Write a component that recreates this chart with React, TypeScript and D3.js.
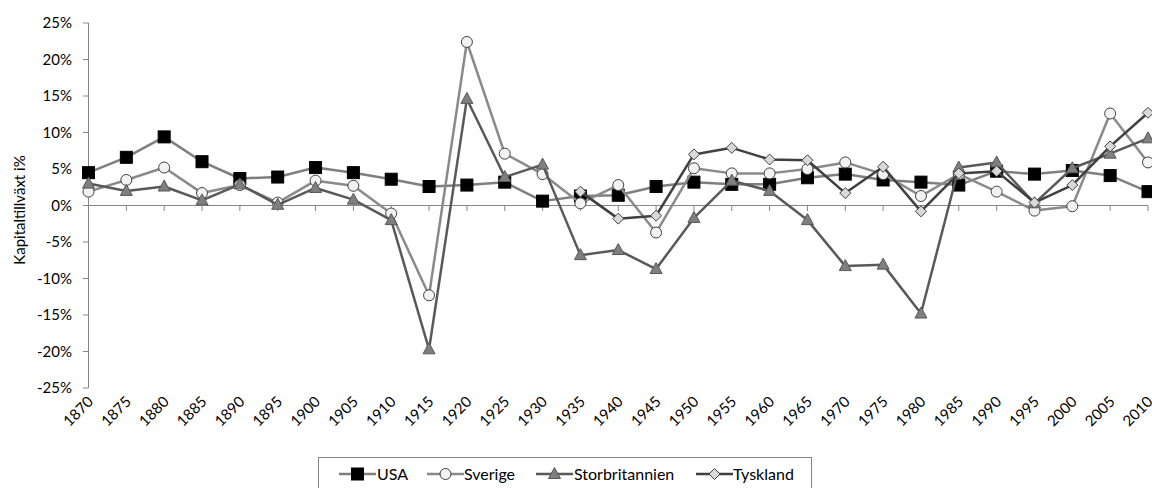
import * as d3 from "d3";

const years = d3.range(1870, 2011, 5);
const usa = [4.5, 6.6, 9.4, 6.0, 3.7, 3.9, 5.2, 4.5, 3.6, 2.6, 2.8, 3.2, 0.6, 1.3, 1.4, 2.6, 3.2, 2.9, 2.9, 3.8, 4.3, 3.5, 3.2, 2.8, 4.7, 4.3, 4.8, 4.1, 1.9];
const sverige = [1.9, 3.5, 5.2, 1.7, 2.8, 0.4, 3.4, 2.7, -1.1, -12.3, 22.4, 7.1, 4.3, 0.3, 2.8, -3.7, 5.1, 4.4, 4.4, 5.0, 5.9, 4.3, 1.3, 4.3, 1.9, -0.7, -0.1, 12.6, 5.9];
const storbritannien = [3.0, 2.0, 2.6, 0.7, 2.9, 0.1, 2.4, 0.8, -2.0, -19.7, 14.6, 3.9, 5.6, -6.8, -6.1, -8.7, -1.7, 3.4, 2.0, -2.0, -8.3, -8.1, -14.8, 5.2, 5.9, 0.3, 5.1, 7.1, 9.2];
const tyskland = [null, null, null, null, null, null, null, null, null, null, null, null, null, 1.9, -1.8, -1.4, 7.0, 7.9, 6.3, 6.2, 1.7, 5.3, -0.8, 4.4, 4.7, 0.4, 2.8, 8.1, 12.7];
const yTicks = [25, 20, 15, 10, 5, 0, -5, -10, -15, -20, -25];

const FONT = "Lato, 'Open Sans', sans-serif";
const AXIS = "#868686";

const series = [
  { name: "USA", values: usa, line: "#7f7f7f", marker: "square", fill: "#000000", stroke: "#000000" },
  { name: "Sverige", values: sverige, line: "#8a8a8a", marker: "circle", fill: "#f2f2f2", stroke: "#404040" },
  { name: "Storbritannien", values: storbritannien, line: "#595959", marker: "triangle", fill: "#7f7f7f", stroke: "#595959" },
  { name: "Tyskland", values: tyskland, line: "#404040", marker: "diamond", fill: "#d9d9d9", stroke: "#404040" },
];

function Marker({ kind, x, y, fill, stroke }) {
  if (kind === "square") return <rect x={x - 6} y={y - 6} width={12} height={12} fill={fill} stroke={stroke} />;
  if (kind === "circle") return <circle cx={x} cy={y} r={5.5} fill={fill} stroke={stroke} strokeWidth={1} />;
  if (kind === "triangle")
    return <path d={`M${x},${y - 6.5}L${x + 6},${y + 4.5}L${x - 6},${y + 4.5}Z`} fill={fill} stroke={stroke} strokeWidth={1} />;
  return <path d={`M${x},${y - 5.5}L${x + 5.5},${y}L${x},${y + 5.5}L${x - 5.5},${y}Z`} fill={fill} stroke={stroke} strokeWidth={1} />;
}

export default function App() {
  const width = 1152;
  const height = 488;
  const x = d3.scalePoint().domain(years.map(String)).range([88.5, 1148]);
  const y = d3.scaleLinear().domain([-25, 25]).range([388, 23]);

  const line = d3
    .line()
    .defined((d) => d[1] != null)
    .x((d) => x(String(d[0])))
    .y((d) => y(d[1]));

  const legendItems = [
    { s: series[0], lx: 339, tx: 377 },
    { s: series[1], lx: 427, tx: 464 },
    { s: series[2], lx: 536, tx: 574 },
    { s: series[3], lx: 696, tx: 733 },
  ];

  return (
    <svg width={width} height={height} style={{ position: "absolute", left: 0, top: 0, background: "#fff" }} fontFamily={FONT}>
      {/* y axis */}
      <line x1={88.5} x2={88.5} y1={23} y2={388} stroke={AXIS} />
      {yTicks.map((t) => (
        <g key={t}>
          <line x1={83} x2={88.5} y1={y(t)} y2={y(t)} stroke={AXIS} />
          <text x={72} y={y(t)} dy="0.35em" textAnchor="end" fontSize={15} fill="#000">
            {t}%
          </text>
        </g>
      ))}
      <text transform="translate(20,210) rotate(-90)" textAnchor="middle" dy="0.35em" fontSize={15} fill="#000">
        Kapitaltillväxt i%
      </text>

      {/* x axis at 0 */}
      <line x1={88.5} x2={1148} y1={y(0)} y2={y(0)} stroke={AXIS} />
      {years.map((yr) => (
        <g key={yr}>
          <line x1={x(String(yr))} x2={x(String(yr))} y1={y(0)} y2={y(0) + 5.5} stroke={AXIS} />
          <text
            transform={`translate(${x(String(yr)) + 2},${399}) rotate(-45)`}
            textAnchor="end"
            dy="0.35em"
            fontSize={15}
            fill="#000"
          >
            {yr}
          </text>
        </g>
      ))}

      {/* series */}
      {series.map((s) => {
        const pts = years.map((yr, i) => [yr, s.values[i]]);
        return (
          <g key={s.name}>
            <path d={line(pts)} fill="none" stroke={s.line} strokeWidth={2.5} strokeLinejoin="round" />
            {pts
              .filter((p) => p[1] != null)
              .map((p) => (
                <Marker key={p[0]} kind={s.marker} x={x(String(p[0]))} y={y(p[1])} fill={s.fill} stroke={s.stroke} />
              ))}
          </g>
        );
      })}

      {/* legend */}
      <rect x={318.5} y={457.5} width={493} height={40} fill="#fff" stroke={AXIS} />
      {legendItems.map(({ s, lx, tx }) => (
        <g key={s.name}>
          <line x1={lx} x2={lx + 37} y1={474} y2={474} stroke={s.line} strokeWidth={2.5} />
          <Marker kind={s.marker} x={lx + 18.5} y={474} fill={s.fill} stroke={s.stroke} />
          <text x={tx} y={474} dy="0.35em" fontSize={16} fill="#000">
            {s.name}
          </text>
        </g>
      ))}
    </svg>
  );
}
